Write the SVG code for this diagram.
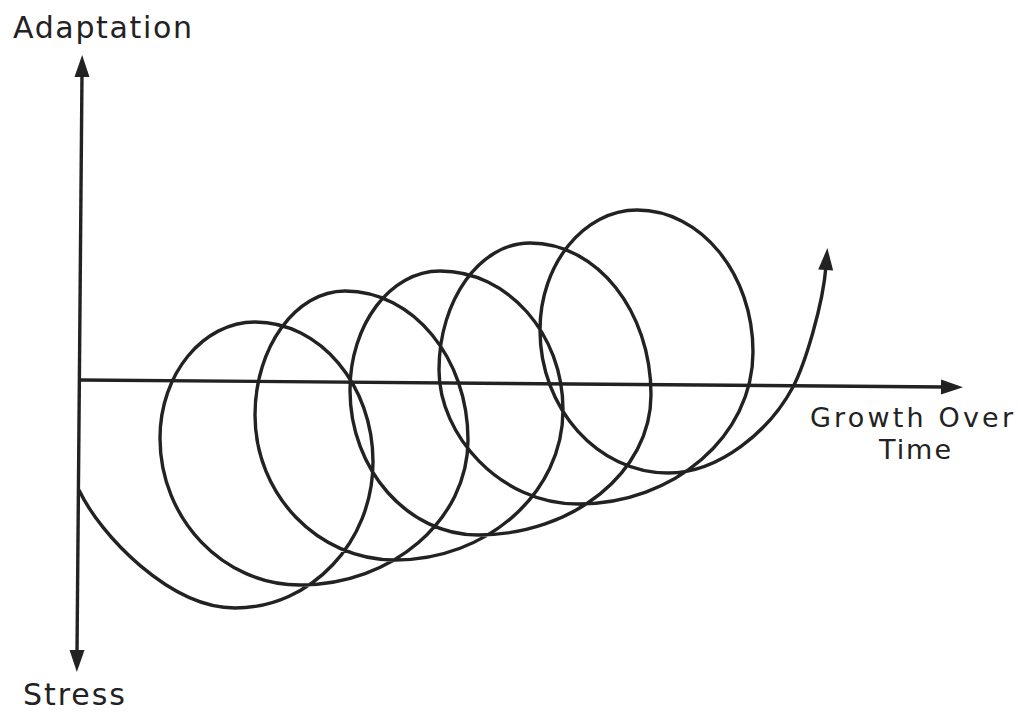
<svg xmlns="http://www.w3.org/2000/svg" width="1018" height="713" viewBox="0 0 1018 713">
  <style>
    .ln { fill: none; stroke: #222222; stroke-width: 3.4; stroke-linecap: butt; stroke-linejoin: round; }
    .lbl { font-family: "DejaVu Sans", "Liberation Sans", sans-serif; font-size: 30px; fill: #222222; }
    .lbl-sm { font-size: 27px; }
  </style>
  <defs>
    <marker id="arr" markerUnits="userSpaceOnUse" viewBox="-24 -10 28 20" markerWidth="28" markerHeight="20" refX="-18" refY="0" orient="auto-start-reverse">
      <path d="M0,0 L-22,-7.5 L-22,7.5 Z" fill="#222222"/>
    </marker>
  </defs>
  <rect width="1018" height="713" fill="#ffffff"/>

  <g id="axes">
    <line id="axis-adaptation-stress" class="ln" x1="82" y1="73" x2="77" y2="654" marker-start="url(#arr)" marker-end="url(#arr)"/>
    <line id="axis-growth" class="ln" x1="80" y1="380" x2="945" y2="387" marker-end="url(#arr)"/>
  </g>

  <g id="spiral">
    <path class="ln" marker-end="url(#arr)" d="M79,490
      C100,535 170,608 235,608
      C311,608 373,542 373,462
      C373,385 320,322 255,322
      C203,322 160,374 160,438
      C160,519 223,585 300,585
      C392,585 468,520 468,440
      C468,358 413,291 345,291
      C296,291 255,347 255,415
      C255,495 318,560 395,560
      C487,560 563,493 563,410
      C563,334 508,271 440,271
      C390,271 350,325 350,390
      C350,470 408,535 478,535
      C573,535 651,472 651,395
      C651,311 597,243 530,243
      C480,243 439,300 439,370
      C439,435 500,504 578,504
      C674,504 753,436 753,352
      C753,274 701,210 637,210
      C584,210 540,264 540,330
      C540,409 598,473 668,473
      C720,473 770,430 793,387
      C805,364 823,305 826,266"/>
  </g>

  <g id="labels">
    <text id="label-adaptation" class="lbl" x="13" y="38" textLength="179" lengthAdjust="spacing">Adaptation</text>
    <text id="label-stress" class="lbl" x="23" y="705" textLength="102" lengthAdjust="spacing">Stress</text>
    <text id="label-growth" class="lbl lbl-sm" x="810" y="427" textLength="203" lengthAdjust="spacing">Growth Over</text>
    <text id="label-time" class="lbl lbl-sm" x="879" y="459" textLength="72" lengthAdjust="spacing">Time</text>
  </g>
</svg>
